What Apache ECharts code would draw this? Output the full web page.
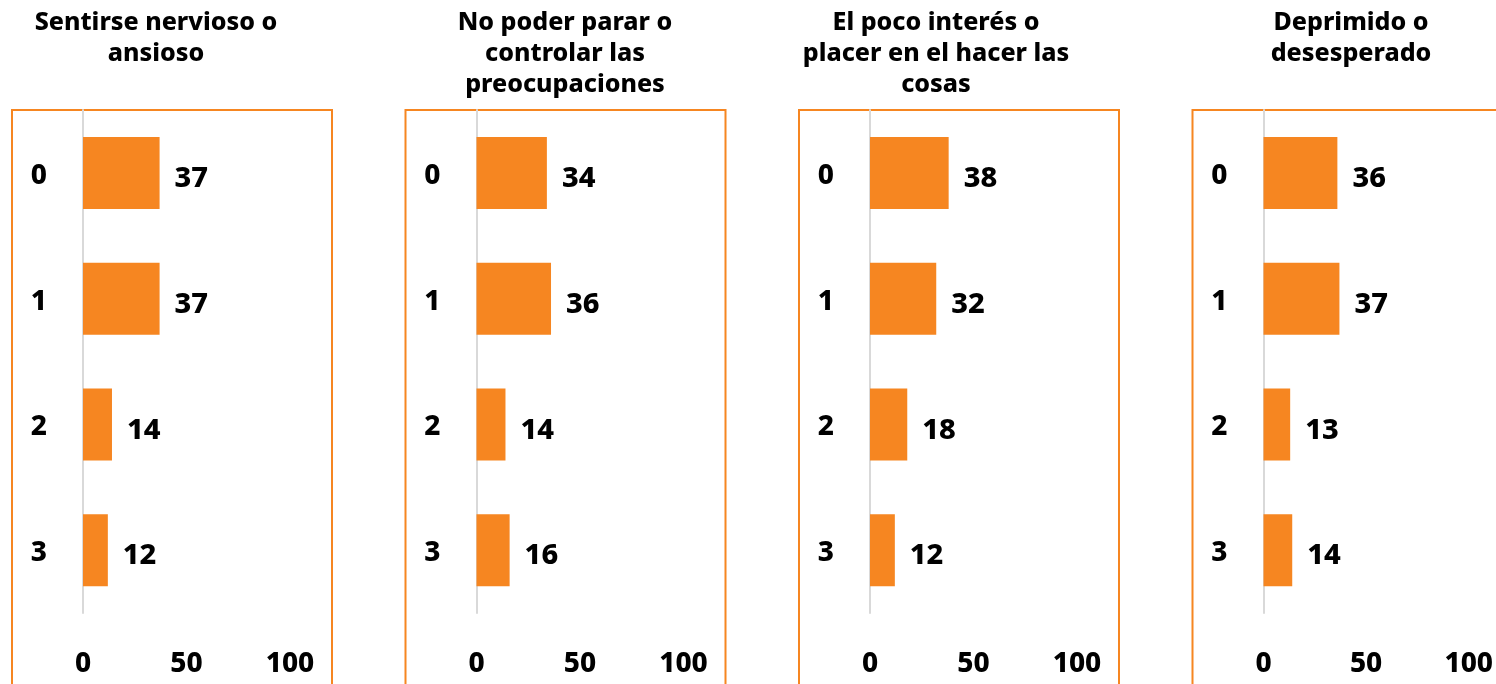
<!DOCTYPE html>
<html>
<head>
<meta charset="utf-8">
<script src="https://cdn.jsdelivr.net/npm/echarts@6/dist/echarts.min.js"></script>
<style>html,body{margin:0;padding:0;background:#fff;}#c{width:1496px;height:684px;}</style>
</head>
<body>
<div id="c"></div>
<script>
const titles = [
  'Sentirse nervioso o\nansioso',
  'No poder parar o\ncontrolar las\npreocupaciones',
  'El poco interés o\nplacer en el hacer las\ncosas',
  'Deprimido o\ndesesperado'
];
const categories = ['0', '1', '2', '3'];
const values1 = [37, 37, 14, 12];
const values2 = [34, 36, 14, 16];
const values3 = [38, 32, 18, 12];
const values4 = [36, 37, 13, 14];
const xTicks = [0, 50, 100];

const seriesValues = [values1, values2, values3, values4];
const ORANGE = '#F68621';
const FONT = '"Noto Sans", sans-serif';
const step = 393.5;
const titleCenters = [156, 565, 936, 1351];

const grids = [], xAxes = [], yAxes = [], series = [], graphics = [];
seriesValues.forEach((vals, i) => {
  const left = 83 + step * i;
  grids.push({left: left, top: 110, width: 207, height: 503, containLabel: false});
  xAxes.push({
    type: 'value', gridIndex: i, min: xTicks[0], max: xTicks[xTicks.length - 1], interval: 50,
    axisLine: {show: false}, axisTick: {show: false}, splitLine: {show: false},
    axisLabel: {margin: 37, fontSize: 28, fontWeight: 800, color: '#000', fontFamily: FONT}
  });
  yAxes.push({
    type: 'category', gridIndex: i, data: categories, inverse: true,
    axisLine: {show: true, lineStyle: {color: '#D9D9D9', width: 2}},
    axisTick: {show: false},
    axisLabel: {margin: 36, fontSize: 28, fontWeight: 800, color: '#000', fontFamily: FONT,
                verticalAlign: 'top', lineHeight: 6}
  });
  series.push({
    type: 'bar', xAxisIndex: i, yAxisIndex: i, data: vals, barWidth: 72,
    itemStyle: {color: ORANGE},
    label: {show: true, position: 'right', distance: 15, offset: [0, 6], fontSize: 29, fontWeight: 800, color: '#000', fontFamily: FONT}
  });
  graphics.push({
    type: 'rect', z: -1, silent: true,
    shape: {x: 12 + step * i, y: 110, width: 320, height: 620},
    style: {fill: 'none', stroke: ORANGE, lineWidth: 2}
  });
  graphics.push({
    type: 'text', x: titleCenters[i], y: 7, silent: true,
    style: {text: titles[i], textAlign: 'center', textVerticalAlign: 'top', fontSize: 25, fontWeight: 800,
            fontFamily: FONT, fill: '#000', lineHeight: 31}
  });
});

const chart = echarts.init(document.getElementById('c'));
chart.setOption({
  animation: false,
  grid: grids, xAxis: xAxes, yAxis: yAxes, series: series,
  graphic: graphics
});
</script>
</body>
</html>
